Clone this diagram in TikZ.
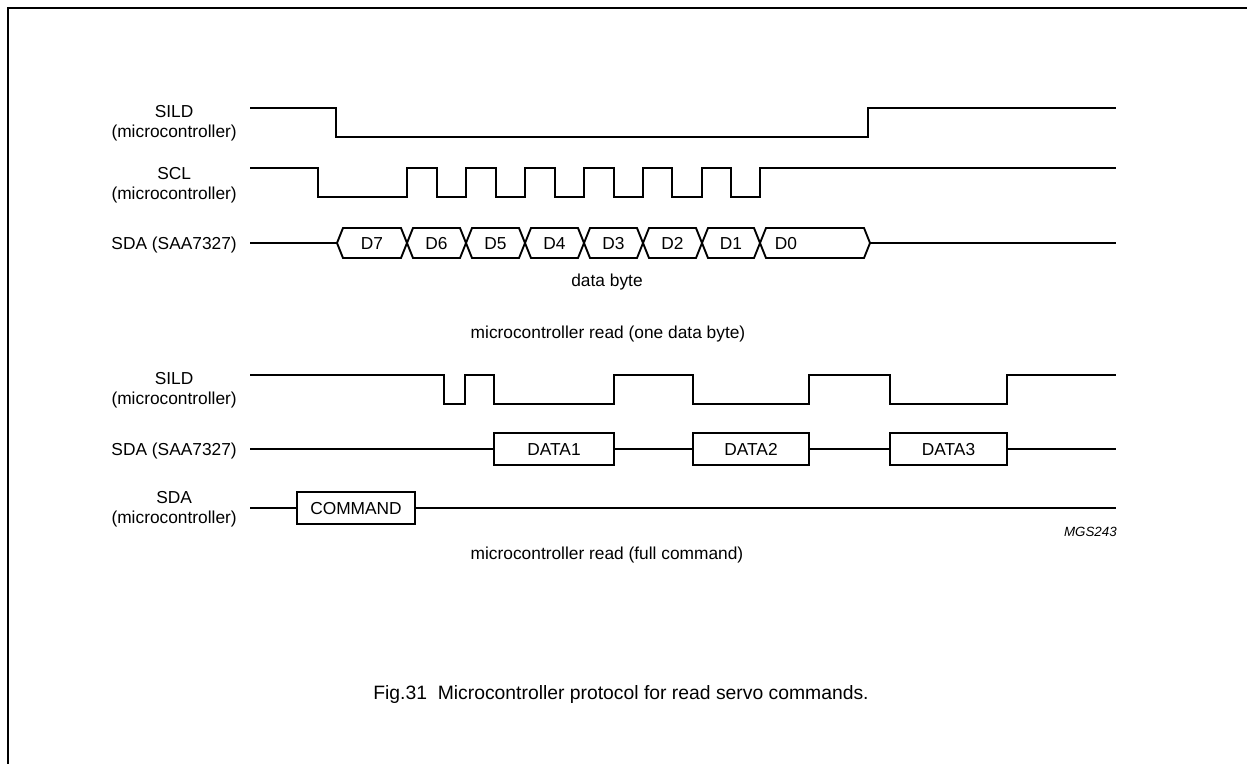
\documentclass[tikz,border=0pt]{standalone}
\usepackage{fontspec}
\setmainfont{Liberation Sans}
\begin{document}
\begin{tikzpicture}[x=0.75pt,y=0.75pt,yscale=-1,xscale=1,
	sig/.style={line width=1.6pt},
	bus/.style={line width=1.4pt},
	lbl/.style={anchor=east,align=center,inner sep=0pt,font=\fontsize{13}{15}\selectfont},
	txt/.style={inner sep=0pt,text height=9.4pt,text depth=0pt,font=\fontsize{13}{15}\selectfont},
	databox/.style={draw,line width=1.4pt,inner sep=0pt,minimum height=24pt,text height=9.4pt,text depth=0pt,font=\fontsize{13}{15}\selectfont}]
	\useasboundingbox (0,0) rectangle (1247,764);

	%Shape: Frame
	\draw [line width=1.5pt] (8,764) -- (8,8) -- (1247,8) ;

	% Text Node
	\node [lbl] (sildA) at (237,123) {SILD\\(microcontroller)};
	% Text Node
	\node [lbl] (scl) at (237,185) {SCL\\(microcontroller)};
	% Text Node
	\node [lbl] (sdaA) at (237,245) {SDA (SAA7327)};

	%Straight Lines: SILD
	\draw [sig] (250,108) -- (336,108) -- (336,137) -- (868,137) -- (868,108) -- (1116,108) ;
	%Straight Lines: SCL
	\draw [sig] (250,168) -- (318,168) -- (318,197) -- (407,197) -- (407,168) -- (437,168) -- (437,197) -- (466,197) -- (466,168) -- (496,168) -- (496,197) -- (525,197) -- (525,168) -- (555,168) -- (555,197) -- (584,197) -- (584,168) -- (614,168) -- (614,197) -- (643,197) -- (643,168) -- (672,168) -- (672,197) -- (702,197) -- (702,168) -- (731,168) -- (731,197) -- (760,197) -- (760,168) -- (1116,168) ;

	%Shape: data byte
	\foreach \a/\b/\c/\t [count=\i] in {337/407/372/D7, 407/466/436.5/D6, 466/525/495.5/D5, 525/584/554.5/D4, 584/643/613.5/D3, 643/702/672.5/D2, 702/760/731/D1, 760/870/786/D0}
	{
		\draw [bus] (\a,243) -- (\a+6,228) -- (\b-6,228) -- (\b,243) -- (\b-6,258) -- (\a+6,258) -- cycle ;
		\node [txt] (bit\i) at (\c,243) {\t};
	}
	\coordinate (sdaAin) at (250,243);
	\coordinate (sdaAout) at (1116,243);
	%Straight Lines
	\draw [bus] (sdaAin) -- (337,243) ;
	\draw [bus] (870,243) -- (sdaAout) ;

	% Text Node
	\node [txt] (byte) at (607,280) {data byte};
	% Text Node
	\node [txt] (readA) at (608,332) {microcontroller read (one data byte)};

	% Text Node
	\node [lbl] (sildB) at (237,390) {SILD\\(microcontroller)};
	% Text Node
	\node [lbl] (sdaB) at (237,451) {SDA (SAA7327)};
	% Text Node
	\node [lbl] (sdaC) at (237,509) {SDA\\(microcontroller)};

	%Straight Lines: SILD
	\draw [sig] (250,375) -- (444,375) -- (444,404) -- (465,404) -- (465,375) -- (494,375) -- (494,404) -- (614,404) -- (614,375) -- (693,375) -- (693,404) -- (809,404) -- (809,375) -- (890,375) -- (890,404) -- (1007,404) -- (1007,375) -- (1116,375) ;

	%Shape: data words
	\node [databox,minimum width=90pt] (data1) at (554,449) {DATA1};
	\node [databox,minimum width=87pt] (data2) at (751,449) {DATA2};
	\node [databox,minimum width=87.75pt] (data3) at (948.5,449) {DATA3};
	\coordinate (sdaBin) at (250,449);
	\coordinate (sdaBout) at (1116,449);
	\draw [bus] (sdaBin) -- (data1.west) ;
	\draw [bus] (data1.east) -- (data2.west) ;
	\draw [bus] (data2.east) -- (data3.west) ;
	\draw [bus] (data3.east) -- (sdaBout) ;

	%Shape: command
	\node [databox,minimum width=88.5pt] (cmd) at (356,508) {COMMAND};
	\coordinate (sdaCin) at (250,508);
	\coordinate (sdaCout) at (1116,508);
	\draw [bus] (sdaCin) -- (cmd.west) ;
	\draw [bus] (cmd.east) -- (sdaCout) ;

	% Text Node
	\node [inner sep=0pt,anchor=east,font=\fontsize{10}{12}\selectfont\itshape] (code) at (1117,532) {MGS243};
	% Text Node
	\node [txt] (readB) at (607,553) {microcontroller read (full command)};

	% Text Node
	\node [inner sep=0pt,font=\fontsize{14.5}{18}\selectfont] (caption) at (621,694) {Fig.31\ \ Microcontroller protocol for read servo commands.};
\end{tikzpicture}
\end{document}
